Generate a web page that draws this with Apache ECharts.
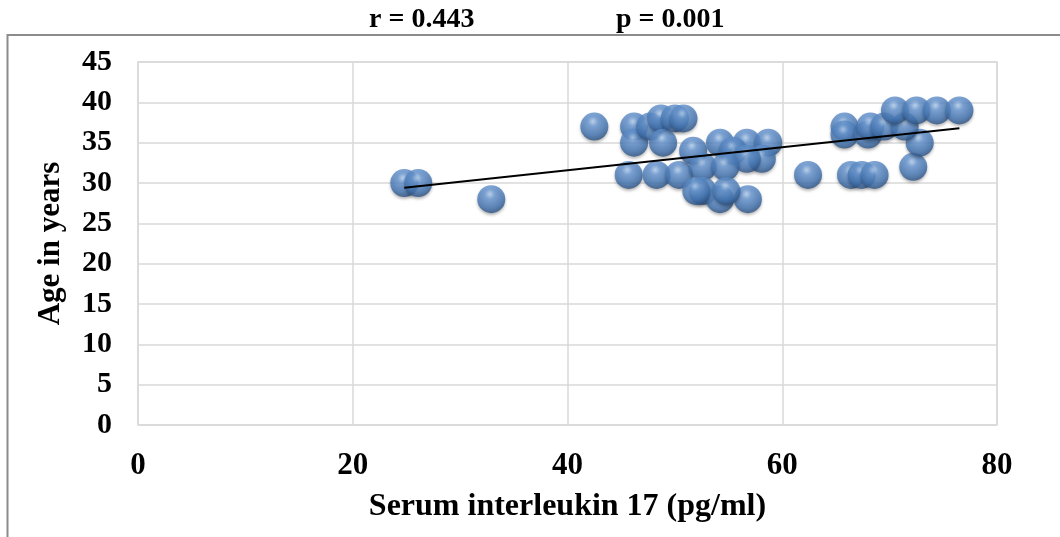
<!DOCTYPE html>
<html>
<head>
<meta charset="utf-8">
<script src="https://cdn.jsdelivr.net/npm/echarts@6/dist/echarts.min.js"></script>
<style>
html,body{margin:0;padding:0;background:#fff;}
#chart{width:1060px;height:537px;}
</style>
</head>
<body>
<div id="chart"></div>
<script>
// Serum interleukin 17 (pg/ml) values
const il17 = [24.8,26.1,32.9,42.5,46.2,46.2,47.7,48.7,48.9,50.0,50.8,45.7,48.3,50.4,51.7,54.2,56.7,58.7,55.4,58.1,56.7,52.6,54.7,52.6,54.2,56.8,52.0,54.8,62.4,66.4,67.4,68.6,72.2,72.8,65.8,65.8,68.0,68.2,69.5,71.4,70.5,72.5,74.4,76.5];
// Age in years
const ages = [30,30,28,37,37,35,37,38,35,38,38,31,31,31,34,35,35,35,34,33,33,32,32,29,28,28,29,29,31,31,31,31,32,35,37,36,36,37,37,37,39,39,39,39];
// linear trend line end values
const trendX = [24.8, 76.5];
const trendY = [29.4, 36.8];
const yTicks = [0,5,10,15,20,25,30,35,40,45];
const xTicks = [0,20,40,60,80];
const statsText = ['r = 0.443', 'p = 0.001'];

const points = il17.map((x, i) => [x, ages[i]]);
const trend = trendX.map((x, i) => [x, trendY[i]]);

const serif = '"Liberation Serif","Times New Roman",serif';
const chart = echarts.init(document.getElementById('chart'));
chart.setOption({
  animation: false,
  backgroundColor: '#fff',
  grid: { left: 138, right: 63, top: 62, bottom: 112, show: true, borderColor: '#d9d9d9', borderWidth: 1.5 },
  graphic: [
    { type: 'rect', shape: { x: 7.5, y: 35, width: 1100, height: 600 }, style: { fill: 'none', stroke: '#8c8c8c', lineWidth: 2 }, z: -1 },
    { type: 'text', left: 369, top: 6, style: { text: statsText[0], font: 'bold 28px ' + serif, fill: '#000' } },
    { type: 'text', left: 616, top: 6, style: { text: statsText[1], font: 'bold 28px ' + serif, fill: '#000' } }
  ],
  xAxis: {
    type: 'value', min: xTicks[0], max: xTicks[xTicks.length-1], interval: 20,
    name: 'Serum interleukin 17 (pg/ml)', nameLocation: 'middle', nameGap: 66,
    nameTextStyle: { fontFamily: serif, fontWeight: 'bold', fontSize: 32, color: '#000' },
    axisLine: { show: false }, axisTick: { show: false },
    axisLabel: { fontFamily: serif, fontWeight: 'bold', fontSize: 31, color: '#000', margin: 25 },
    splitLine: { show: true, lineStyle: { color: '#d9d9d9', width: 1.5 } }
  },
  yAxis: {
    type: 'value', min: yTicks[0], max: yTicks[yTicks.length-1], interval: 5,
    name: 'Age in years', nameLocation: 'middle', nameGap: 72,
    nameTextStyle: { fontFamily: serif, fontWeight: 'bold', fontSize: 31, color: '#000' },
    axisLine: { show: false }, axisTick: { show: false },
    axisLabel: { fontFamily: serif, fontWeight: 'bold', fontSize: 30, color: '#000', margin: 26 },
    splitLine: { show: true, lineStyle: { color: '#d9d9d9', width: 1.5 } }
  },
  series: [
    {
      type: 'scatter', data: points, symbolSize: 28, z: 2,
      itemStyle: {
        color: { type: 'radial', x: 0.45, y: 0.32, r: 0.72, colorStops: [
          { offset: 0, color: '#b9d5f5' },
          { offset: 0.25, color: '#6a9ad6' },
          { offset: 0.7, color: '#4274b2' },
          { offset: 1, color: '#284a78' }
        ] },
        shadowBlur: 3, shadowColor: 'rgba(0,0,0,0.35)', shadowOffsetY: 2
      }
    },
    {
      type: 'line', data: trend, symbol: 'none', z: 3,
      lineStyle: { color: '#000', width: 2 }, silent: true
    }
  ]
});
</script>
</body>
</html>
